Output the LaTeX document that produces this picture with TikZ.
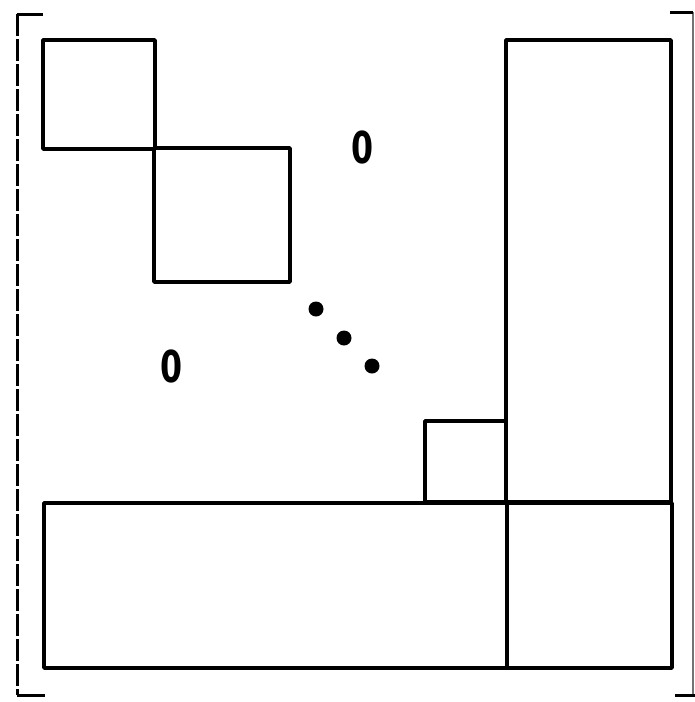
\documentclass[tikz,border=0pt]{standalone}
\usepackage{fontspec}
\newfontfamily\zerofont{DejaVu Sans}
\begin{document}
\begin{tikzpicture}[x=1pt,y=-1pt,
  blk/.style={draw=black,line width=3.6pt,line join=round},
  lbrk/.style={draw=black,line width=3pt,dash pattern=on 22pt off 3pt},
  rbrk/.style={draw=black!55,line width=1.4pt},
  tick/.style={draw=black,line width=3pt},
  zero/.style={font=\zerofont\fontsize{44}{44}\selectfont\bfseries,inner sep=0pt,xscale=0.72},
  dot/.style={fill=black}]
\useasboundingbox (0,0) rectangle (695,702);
% brackets
\draw[lbrk] (17,14) -- (17,695);
\draw[tick] (17,14) -- (43,14);
\draw[tick] (17,695) -- (45,695);
\draw[rbrk] (693,12) -- (693,695);
\draw[tick] (670,12) -- (693,12);
\draw[tick] (675,695) -- (695,695);
% blocks
\draw[blk] (43,40) rectangle (155,149);
\draw[blk] (154,148) rectangle (290,282);
\draw[blk] (506,40) rectangle (671,502);
\draw[blk] (425,421) rectangle (506,502);
\draw[blk] (44,503) rectangle (672,668);
\draw[blk] (507,503) -- (507,668);
% zeros
\node[zero] (z1) at (363,147) {0};
\node[zero] (z2) at (172,366) {0};
% dots
\fill[dot] (316,309) circle (7.5);
\fill[dot] (344,338) circle (7.5);
\fill[dot] (372,366) circle (7.5);
\end{tikzpicture}
\end{document}
